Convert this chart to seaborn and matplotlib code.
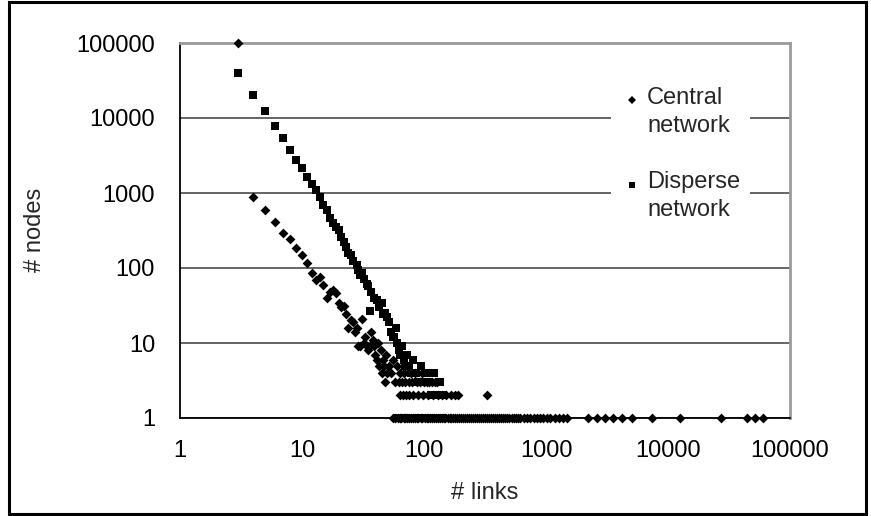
import matplotlib
matplotlib.use("Agg")
import matplotlib.pyplot as plt
import pandas as pd
import seaborn as sns
from matplotlib.patches import Rectangle
from matplotlib.lines import Line2D
from matplotlib.ticker import FixedLocator, FuncFormatter, NullLocator

# ---------------- data ----------------
series_names = ["Central network", "Disperse network"]
x_ticks = [1, 10, 100, 1000, 10000, 100000]
y_ticks = [1, 10, 100, 1000, 10000, 100000]

# Central network: main part of the curve (links, nodes)
central_links = [3, 4, 5, 6, 7, 8, 9, 10, 11, 12,
                 13, 14, 15, 16, 17, 18, 19, 20, 21, 22,
                 23, 24, 25, 26, 27, 28, 29, 30, 31, 32,
                 33, 34, 35, 36, 37, 38, 39, 40,
                 41, 42, 43, 44, 45, 46, 47, 48, 49, 50,
                 52, 54, 56, 58, 60, 62, 64, 66,
                 68, 70, 72, 75, 78, 80, 85, 88, 92, 96,
                 100, 105, 110, 116, 122, 128]
central_nodes = [100000, 880, 590, 410, 290, 240, 183, 148, 115, 87,
                 69, 75, 59, 40, 48, 51, 46, 34, 30, 31,
                 24, 16, 20, 19, 14, 16, 9, 9, 21, 10,
                 12, 9, 8, 9, 14, 11, 9, 7,
                 6, 10, 5, 8, 4, 6, 5, 3, 7, 4,
                 5, 4, 6, 3, 5, 3, 4, 3,
                 4, 3, 5, 3, 4, 3, 4, 3, 3, 4,
                 3, 3, 3, 3, 3, 3]
# Central network: links values that have 2 nodes / 1 node
central_links_2 = [63, 67, 71, 76, 82, 90, 98, 108, 118, 130, 140, 152, 165, 178, 190, 328]
central_links_1 = [56, 58, 61, 63, 65, 68, 70, 73, 75, 78, 81, 84, 87, 90, 94, 97, 101, 105,
                   108, 112, 117, 121, 125, 130, 135, 140, 145, 150, 156, 162, 168, 174, 180,
                   187, 194, 201, 208, 216, 224, 232, 241, 250, 260, 270, 280, 292, 303, 315,
                   327, 340, 353, 367, 381, 396, 412, 428, 445, 463, 482, 502, 523, 545, 568,
                   592, 617, 660, 700, 740, 790, 846, 890, 950, 1010, 1070, 1190, 1290, 1390,
                   1490, 2210, 2620, 3050, 3540, 4200, 5070, 7390, 12540, 27200, 44400, 51600,
                   60100]

# Disperse network: main part of the curve (links, nodes)
disperse_links = [3, 4, 5, 6, 7, 8, 9, 10, 11, 12, 13, 14,
                  15, 16, 17, 18, 19, 20, 21, 22, 23, 24,
                  25, 26, 28, 29, 30, 31, 32, 34, 35, 36,
                  37, 39, 41, 43, 45, 46, 48, 50, 52, 54,
                  56, 57, 59, 60, 62, 64, 66, 68, 70, 72,
                  75, 78, 82, 86, 90, 95, 100, 105, 110, 115,
                  120, 125, 130, 135, 140]
disperse_nodes = [40000, 20500, 12500, 7900, 5400, 3800, 2750, 2150, 1650, 1300, 1100, 890,
                  700, 600, 460, 395, 350, 320, 260, 220, 190, 157,
                  150, 125, 110, 95, 80, 85, 72, 62, 58, 27,
                  48, 40, 37, 30, 34, 24, 25, 22, 19, 14,
                  12, 12, 16, 10, 8, 7, 9, 6, 5, 7,
                  5, 4, 6, 4, 3, 5, 3, 4, 3, 2,
                  4, 2, 2, 3, 2]
# Disperse network: links values that have 1 node
disperse_links_1 = [60, 64, 68, 72, 77, 82, 88, 94, 100, 107, 115, 123, 132, 142]

df_c = pd.concat([
    pd.DataFrame({"links": central_links, "nodes": central_nodes}),
    pd.DataFrame({"links": central_links_2, "nodes": 2}),
    pd.DataFrame({"links": central_links_1, "nodes": 1}),
], ignore_index=True)
df_c["series"] = series_names[0]
df_d = pd.concat([
    pd.DataFrame({"links": disperse_links, "nodes": disperse_nodes}),
    pd.DataFrame({"links": disperse_links_1, "nodes": 1}),
], ignore_index=True)
df_d["series"] = series_names[1]

# ---------------- figure ----------------
sns.set_theme(style="white")
plt.rcParams["font.family"] = ["Liberation Sans", "DejaVu Sans"]

W, H = 871, 516
fig = plt.figure(figsize=(W / 100, H / 100), dpi=100)
ax_l, ax_r, ax_t, ax_b = 180, 790, 43, 418
ax = fig.add_axes([ax_l / W, (H - ax_b) / H, (ax_r - ax_l) / W, (ax_b - ax_t) / H])

ax.set_xscale("log")
ax.set_yscale("log")
ax.set_xlim(1, 100000)
ax.set_ylim(1, 100000)

ax.yaxis.grid(True, color="#3a3a3a", lw=1.1, zorder=0)
ax.xaxis.grid(False)
ax.set_axisbelow(True)

sns.scatterplot(data=df_d, x="links", y="nodes", marker="s", color="black", s=28,
                linewidth=0, ax=ax, legend=False, clip_on=False, zorder=3)
sns.scatterplot(data=df_c, x="links", y="nodes", marker="D", color="black", s=25,
                linewidth=0, ax=ax, legend=False, clip_on=False, zorder=4)

ax.xaxis.set_major_locator(FixedLocator(x_ticks))
ax.yaxis.set_major_locator(FixedLocator(y_ticks))
ax.xaxis.set_minor_locator(NullLocator())
ax.yaxis.set_minor_locator(NullLocator())
fmt = FuncFormatter(lambda v, p: f"{int(round(v))}")
ax.xaxis.set_major_formatter(fmt)
ax.yaxis.set_major_formatter(fmt)
ax.tick_params(axis="both", which="major", direction="out", length=7, width=1.1,
               color="black", labelsize=17, labelcolor="black")
ax.tick_params(axis="y", pad=11)
ax.tick_params(axis="x", pad=9)

for side in ["left", "bottom"]:
    ax.spines[side].set_color("black")
    ax.spines[side].set_linewidth(1.3)
for side in ["top", "right"]:
    ax.spines[side].set_color("#9a9a9a")
    ax.spines[side].set_linewidth(2)

ax.set_xlabel("")
ax.set_ylabel("")
fig.text(485 / W, 1 - 493 / H, "# links", fontsize=17, ha="center", va="center")
fig.text(35 / W, 1 - 230 / H, "# nodes", fontsize=17, ha="center", va="center", rotation=90)

# legend (white box without border, covering gridlines)
lg_x0, lg_x1, lg_y0, lg_y1 = 611, 750, 82, 226
fig.patches.append(Rectangle((lg_x0 / W, 1 - lg_y1 / H), (lg_x1 - lg_x0) / W,
                             (lg_y1 - lg_y0) / H, transform=fig.transFigure,
                             facecolor="white", edgecolor="none", zorder=5))
entries = [("D", 4.4, 98, 100, series_names[0].split(" ")),
           ("s", 4.6, 182, 185, series_names[1].split(" "))]
for mk, ms, yt, ym, lines in entries:
    fig.add_artist(Line2D([632 / W], [1 - ym / H], marker=mk, markersize=ms, color="black",
                          markeredgewidth=0, linestyle="none", transform=fig.transFigure,
                          zorder=6))
    for i, t in enumerate(lines):
        fig.text(647 / W, 1 - (yt + 28 * i) / H, t, fontsize=17, ha="left", va="center",
                 zorder=7)

# outer border
fig.patches.append(Rectangle((8.5 / W, 2 / H), (865.5 - 8.5) / W, (514 - 2) / H,
                             transform=fig.transFigure, fill=False, edgecolor="black",
                             lw=2.2, zorder=10))

fig.savefig("out.png", dpi=100)
